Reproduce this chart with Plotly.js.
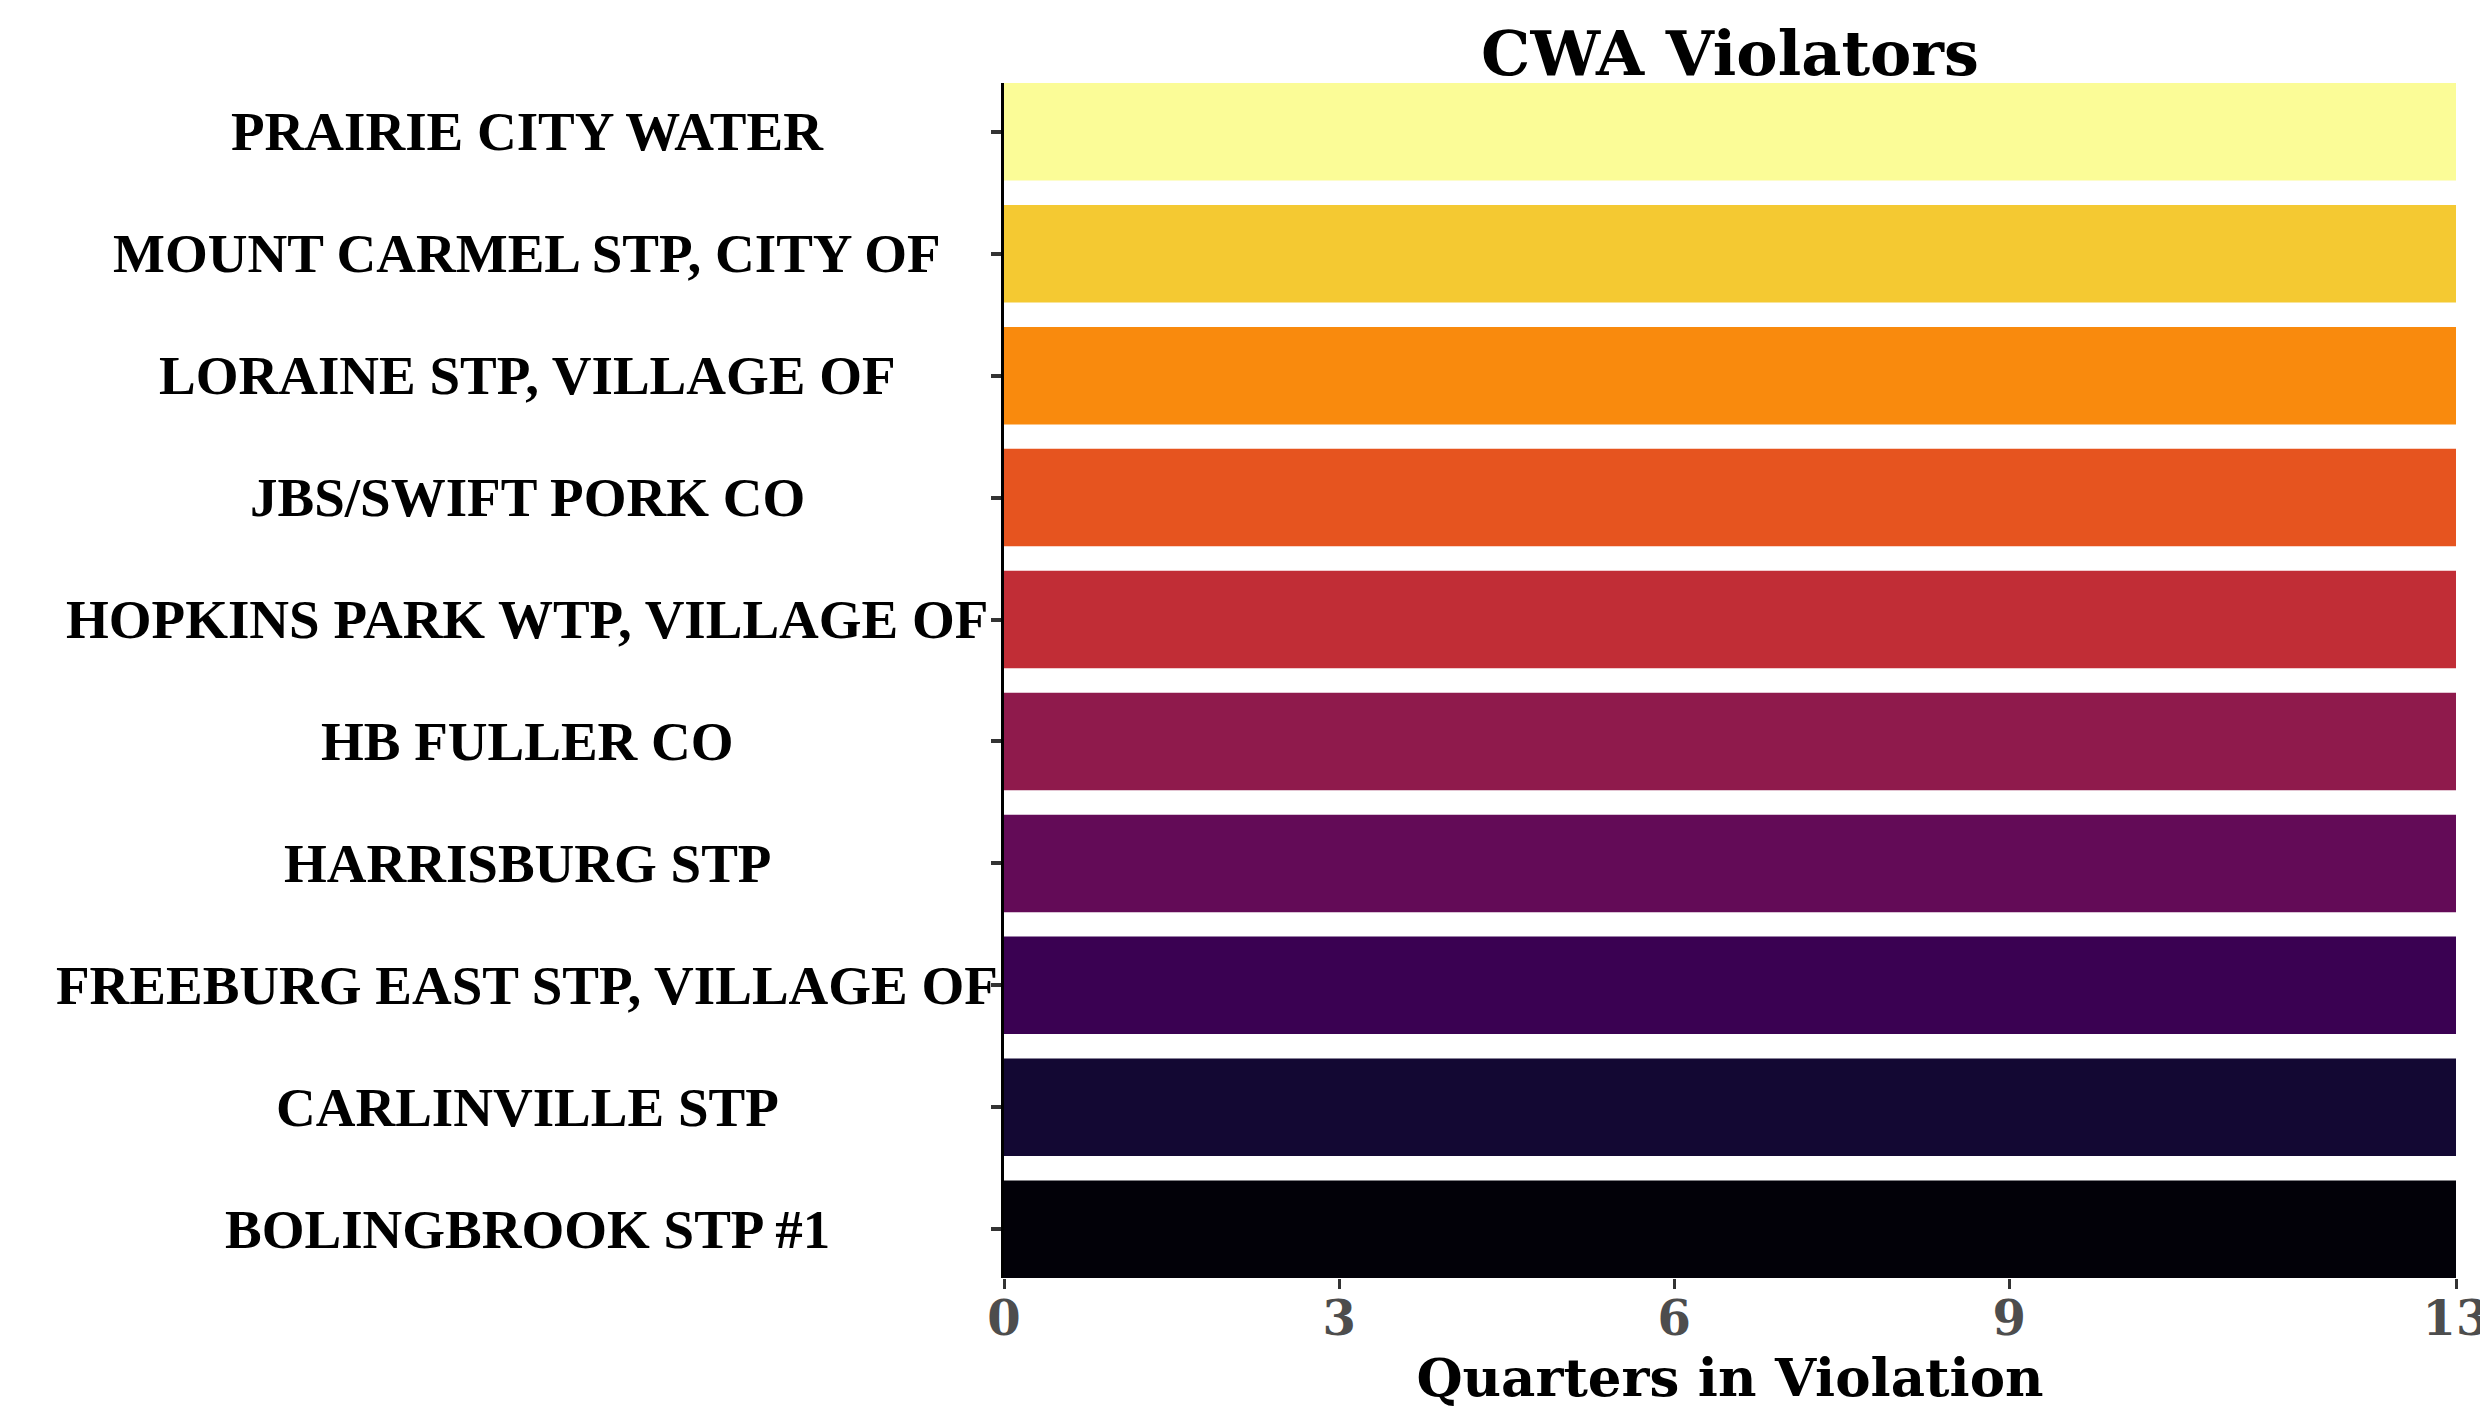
<!DOCTYPE html>
<html>
<head>
<meta charset="utf-8">
<script src="https://cdn.plot.ly/plotly-3.0.1.min.js"></script>
<style>
  html, body { margin: 0; padding: 0; background: #ffffff; }
  #chart { width: 2480px; height: 1417px; }
</style>
</head>
<body>
<div id="chart"></div>
<script>
// Data (bottom to top)
const facilities = [
  "BOLINGBROOK STP #1",
  "CARLINVILLE STP",
  "FREEBURG EAST STP, VILLAGE OF",
  "HARRISBURG STP",
  "HB FULLER CO",
  "HOPKINS PARK WTP, VILLAGE OF",
  "JBS/SWIFT PORK CO",
  "LORAINE STP, VILLAGE OF",
  "MOUNT CARMEL STP, CITY OF",
  "PRAIRIE CITY WATER"
];
const quartersInViolation = [13, 13, 13, 13, 13, 13, 13, 13, 13, 13];
const xTickValues = [0, 3, 6, 9, 13];
const xTickLabels = ["0", "3", "6", "9", "13"];

// Styles
const barColors = [
  "#020108", "#130833", "#3A0152", "#630B57", "#8F1A4C",
  "#C12D36", "#E6541F", "#F98A0D", "#F4C932", "#FBFC97"
];

const W = 2480, H = 1417;
const margin = { l: 1004, r: 24, t: 83, b: 139 };
const plotW = W - margin.l - margin.r;
const labelCenterPx = 527;
const labelX = (labelCenterPx - margin.l) / plotW;

const serifBold = "'DejaVu Serif', Georgia, serif";
const labelFont = "'Liberation Serif', 'Times New Roman', serif";

const trace = {
  type: "bar",
  orientation: "h",
  x: quartersInViolation,
  y: facilities,
  marker: { color: barColors, line: { width: 0 } },
  hoverinfo: "x+y"
};

const annotations = facilities.map(f => ({
  xref: "paper", yref: "y",
  x: labelX, y: f,
  xanchor: "center", yanchor: "middle",
  text: "<b>" + f + "</b>",
  showarrow: false,
  font: { family: labelFont, size: 55, color: "#000000" }
}));

const layout = {
  width: W, height: H,
  margin: margin,
  paper_bgcolor: "#ffffff",
  plot_bgcolor: "#ffffff",
  bargap: 0.2,
  showlegend: false,
  title: {
    text: "<b>CWA Violators</b>",
    font: { family: serifBold, size: 62, color: "#000000" },
    x: (margin.l + plotW / 2) / W, xanchor: "center",
    y: 1 - 53 / H, yanchor: "middle", yref: "container"
  },
  xaxis: {
    range: [0, 13],
    tickmode: "array",
    tickvals: xTickValues,
    ticktext: xTickLabels.map(t => "<b>" + t + "</b>"),
    ticks: "outside", ticklen: 10, tickwidth: 3, tickcolor: "#333333",
    tickfont: { family: serifBold, size: 48, color: "#4D4D4D" },
    ticklabeloverflow: "allow",
    ticklabelstandoff: -12,
    showgrid: false, zeroline: false, showline: false,
    title: {
      text: "<b>Quarters in Violation</b>",
      font: { family: serifBold, size: 53, color: "#000000" },
      standoff: 0
    },
    fixedrange: true
  },
  yaxis: {
    type: "category",
    categoryorder: "array",
    categoryarray: facilities,
    range: [-0.4, 9.4],
    ticks: "outside", ticklen: 10, tickwidth: 4, tickcolor: "#333333",
    showticklabels: false,
    showgrid: false, zeroline: false,
    showline: true, linecolor: "#000000", linewidth: 3,
    fixedrange: true
  },
  annotations: annotations
};

Plotly.newPlot("chart", [trace], layout, { displayModeBar: false, staticPlot: true });
</script>
</body>
</html>
